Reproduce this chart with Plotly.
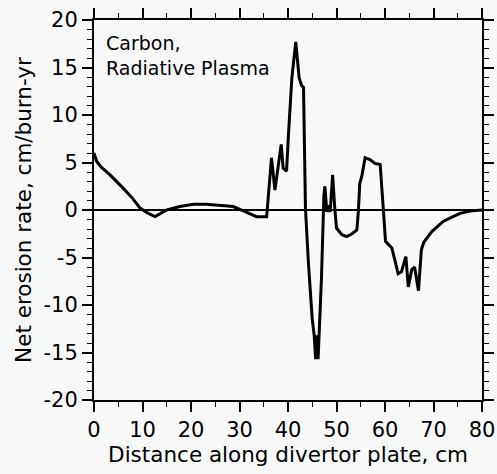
import plotly.graph_objects as go

distance_cm = [0.0, 0.2, 0.55, 1.5, 3.3, 6.0, 8.0, 9.5, 11.0, 12.6, 14.0, 15.0, 17.7, 20.5, 23.2, 26.0,
               28.7, 30.8, 33.5, 35.6, 35.9, 36.6, 37.3, 38.6, 39.0, 39.7, 40.1, 40.8, 41.6, 42.3, 42.8,
               43.2, 43.6, 44.2, 45.0, 45.4, 45.7, 45.9, 46.2, 46.9, 47.4, 47.6, 48.0, 48.3, 48.7, 49.2,
               49.6, 50.0, 51.1, 52.1, 53.2, 54.2, 54.5, 54.8, 55.2, 55.9, 56.9, 57.9, 59.0, 59.3, 59.6,
               60.1, 60.6, 61.4, 62.0, 62.7, 63.4, 64.3, 64.8, 65.5, 66.1, 66.9, 67.5, 68.0, 69.6, 71.0,
               72.0, 74.0, 75.5, 77.5, 79.6, 80.0]
erosion_rate = [6.0, 5.6, 5.1, 4.5, 3.7, 2.3, 1.2, 0.2, -0.3, -0.7, -0.3, 0.0, 0.36, 0.6, 0.6, 0.5,
                0.36, -0.1, -0.7, -0.7, 1.2, 5.5, 2.1, 6.9, 4.4, 4.1, 8.0, 13.9, 17.7, 13.9, 13.1,
                12.9, 0.2, -5.5, -11.5, -13.2, -15.7, -13.2, -15.7, -7.2, 1.5, 2.5, -0.2, 0.5, -0.2, 3.7,
                0.5, -1.9, -2.6, -2.8, -2.5, -2.1, -0.2, 2.8, 3.5, 5.5, 5.3, 4.9, 4.8, 3.0, 0.5,
                -3.3, -3.6, -4.0, -5.2, -6.7, -6.5, -4.9, -8.1, -6.3, -6.0, -8.5, -4.2, -3.4, -2.3, -1.6,
                -1.2, -0.7, -0.35, -0.1, 0.0, 0.0]

x_ticks = [0, 10, 20, 30, 40, 50, 60, 70, 80]
y_ticks = [-20, -15, -10, -5, 0, 5, 10, 15, 20]
annotation_text = "Carbon,<br>Radiative Plasma"

FONT = "DejaVu Sans, sans-serif"
BG = "#f7f8f8"

fig = go.Figure()
fig.add_trace(go.Scatter(
    x=distance_cm, y=erosion_rate, mode="lines",
    line=dict(color="black", width=3), showlegend=False,
))

axis_common = dict(
    showline=True, linecolor="black", linewidth=2, mirror="allticks",
    ticks="outside", ticklen=10, tickwidth=1.5, tickcolor="black",
    showgrid=False, tickfont=dict(family=FONT, size=21, color="black"),
    automargin=False,
)
fig.update_xaxes(
    range=[0, 80], tickvals=x_ticks, ticktext=[str(v) for v in x_ticks],
    minor=dict(dtick=5, ticks="outside", ticklen=5, tickwidth=1.2, tickcolor="black"),
    title=dict(text="Distance along divertor plate, cm",
               font=dict(family=FONT, size=21.5, color="black"), standoff=4),
    zeroline=False, **axis_common,
)
fig.update_yaxes(
    range=[-20, 20], tickvals=y_ticks, ticktext=[str(v) for v in y_ticks],
    minor=dict(dtick=1, ticks="outside", ticklen=5, tickwidth=1.2, tickcolor="black"),
    title=dict(text="Net erosion rate, cm/burn-yr",
               font=dict(family=FONT, size=21.5, color="black"), standoff=6),
    zeroline=True, zerolinecolor="black", zerolinewidth=1.5,
    **axis_common,
)
fig.add_annotation(
    x=0.025, y=0.975, xref="paper", yref="paper", xanchor="left", yanchor="top",
    text=annotation_text, showarrow=False, align="left",
    font=dict(family=FONT, size=19, color="black"),
)
fig.update_layout(
    width=497, height=474,
    margin=dict(l=94, r=15, t=20, b=74),
    paper_bgcolor=BG, plot_bgcolor=BG,
)
fig.write_html(
    "out.html",
    config={"displayModeBar": False},
    post_script="document.body.style.margin='0';document.body.style.background='%s';" % BG,
)
